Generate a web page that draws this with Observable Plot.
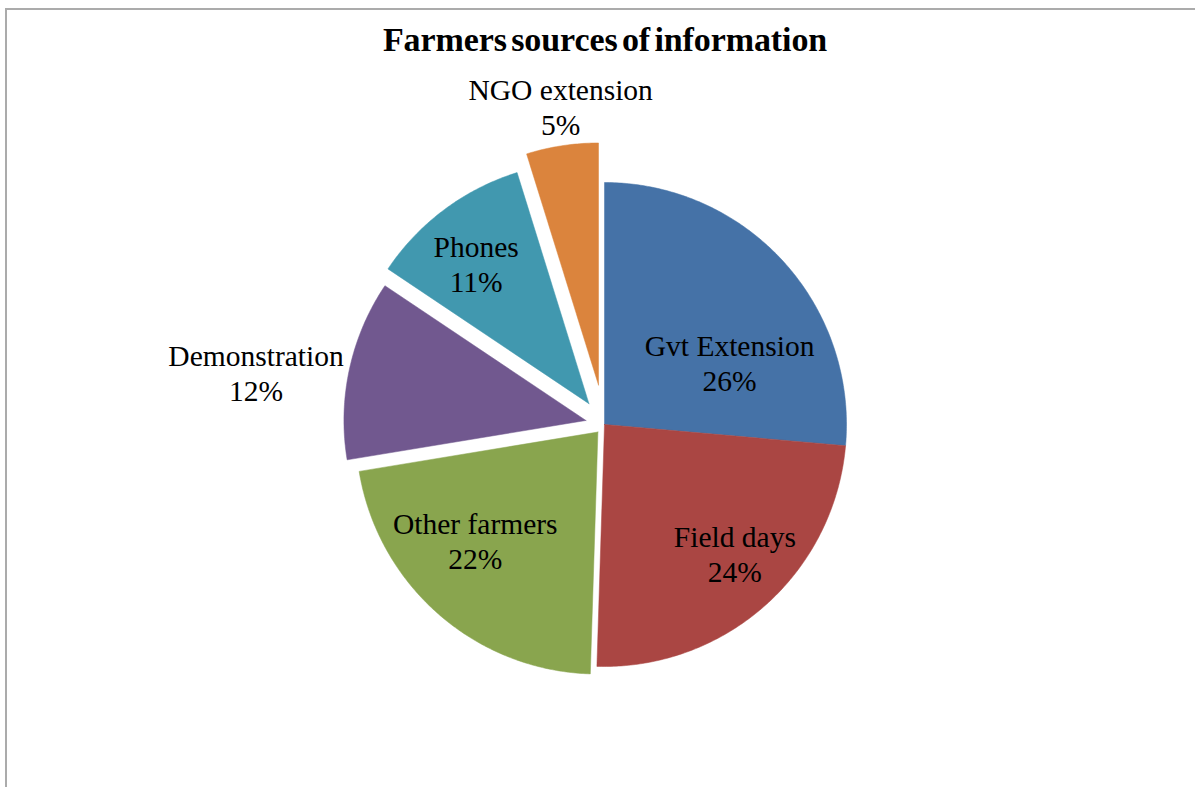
<!DOCTYPE html>
<html>
<head>
<meta charset="utf-8">
<script src="https://cdn.jsdelivr.net/npm/d3@7"></script>
<script src="https://cdn.jsdelivr.net/npm/@observablehq/plot@0.6"></script>
<style>
  html, body { margin: 0; padding: 0; background: #fff; }
  #wrap { position: relative; width: 1195px; height: 787px; overflow: hidden; }
  #frame { position: absolute; left: 5px; top: 8px; width: 2000px; height: 2000px;
           border-top: 2px solid #ababab; border-left: 2px solid #ababab; }
  #title { position: absolute; left: 0; width: 1210px; top: 21px; text-align: center;
           font-family: "Liberation Serif", serif; font-weight: bold; font-size: 34px;
           letter-spacing: -0.1px; word-spacing: -4px; color: #000; }
  #chart { position: absolute; left: 0; top: 0; }
</style>
</head>
<body>
<div id="wrap">
  <div id="frame"></div>
  <div id="chart"></div>
  <div id="title">Farmers sources of information</div>
</div>
<script>
// ---- data ----
const categories = ["Gvt Extension", "Field days", "Other farmers", "Demonstration", "Phones", "NGO extension"];
const values = [26.4, 24.1, 21.9, 12.0, 10.8, 4.8];

// ---- styles ----
const colors = ["#4572A7", "#AA4643", "#89A54E", "#71588F", "#4198AF", "#DB843D"];
const explodePx = [0, 0, 10, 19, 26, 40];
const labelNudge = [[18, 36], [34, 20], [-27, -1], [-188, -17], [-26, -24], [-16, -135]];

// ---- layout ----
const W = 1195, H = 787;
const CX = 604, CY = 424, R = 242;

const total = d3.sum(values);
const pie = d3.pie().sort(null).value(d => d)(values);

const sliceMarks = [];
const labels = [];
pie.forEach((p, i) => {
  const a0 = p.startAngle, a1 = p.endAngle, am = (a0 + a1) / 2;
  const ex = explodePx[i] / R;
  const ox = ex * Math.sin(am), oy = ex * Math.cos(am);
  const pts = [{x: ox, y: oy}];
  const n = Math.max(8, Math.ceil((a1 - a0) / 0.01));
  for (let k = 0; k <= n; k++) {
    const a = a0 + (a1 - a0) * k / n;
    pts.push({x: ox + Math.sin(a), y: oy + Math.cos(a)});
  }
  pts.push({x: ox, y: oy});
  sliceMarks.push(Plot.line(pts, {x: "x", y: "y", fill: colors[i], stroke: colors[i], strokeWidth: 0.5, curve: "linear"}));
  const pct = Math.round(values[i] / total * 100) + "%";
  labels.push({
    x: ox + 0.6 * Math.sin(am) + labelNudge[i][0] / R,
    y: oy + 0.6 * Math.cos(am) - labelNudge[i][1] / R,
    text: categories[i] + "\n" + pct
  });
});

const chart = Plot.plot({
  width: W,
  height: H,
  margin: 0,
  x: {type: "linear", domain: [-CX / R, (W - CX) / R], axis: null},
  y: {type: "linear", domain: [-(H - CY) / R, CY / R], axis: null},
  style: {background: "transparent"},
  marks: [
    ...sliceMarks,
    Plot.text(labels, {x: "x", y: "y", text: "text", fontFamily: "Liberation Serif", fontSize: 29.5,
      lineHeight: 1.19, fill: "#000", textAnchor: "middle", lineAnchor: "middle"})
  ]
});
document.getElementById("chart").appendChild(chart);
</script>
</body>
</html>
